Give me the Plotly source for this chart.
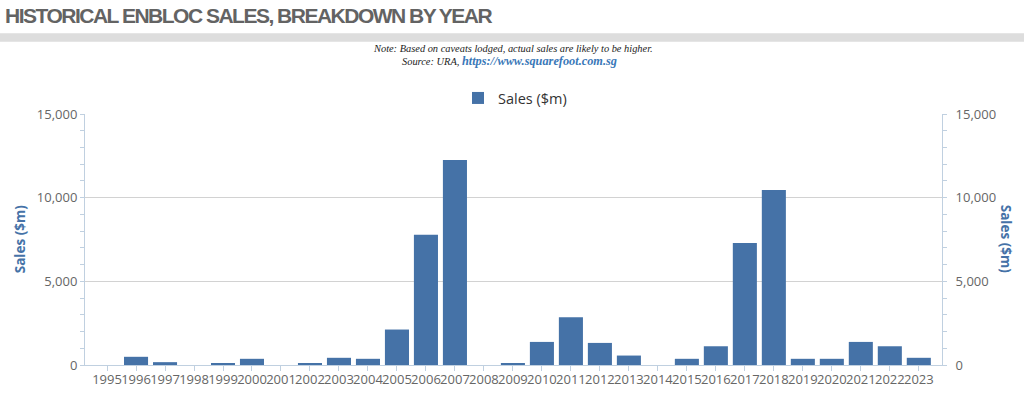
import plotly.graph_objects as go

years = [str(y) for y in range(1995, 2024)]
sales = [0, 490, 170, 0, 100, 370, 0, 100, 430, 370, 2120, 7780, 12250, 0, 100,
         1380, 2850, 1320, 565, 0, 370, 1120, 7285, 10465, 370, 370, 1380, 1120, 430]

title_text = "HISTORICAL ENBLOC SALES, BREAKDOWN BY YEAR"
note_text = "Note: Based on caveats lodged, actual sales are likely to be higher."
source_text = "Source: URA, "
link_text = "https://www.squarefoot.com.sg"
series_name = "Sales ($m)"
axis_title = "Sales ($m)"

BAR = "#4572A7"
AXIS = "#C0D0E0"
GRID = "#d2d2d2"
FONT = "Open Sans"

W, H = 1024, 396
L, R, T, B = 85, 82, 114, 30.5
pw = W - L - R
ph = H - T - B


def px2x(p):
    return (p - L) / pw


def px2y(p):
    return (H - B - p) / ph


fig = go.Figure()
fig.add_trace(go.Bar(x=years, y=sales, name=series_name, marker_color=BAR,
                     marker_line_width=0, showlegend=True))
fig.add_trace(go.Scatter(x=years, y=sales, yaxis="y2", mode="markers",
                         marker=dict(opacity=0), showlegend=False, hoverinfo="skip"))

fig.update_layout(
    width=W, height=H,
    margin=dict(l=L, r=R, t=T, b=B),
    paper_bgcolor="white", plot_bgcolor="white",
    bargap=0.17,
    font=dict(family=FONT, size=13, color="#666666"),
    title=dict(text="<span style='letter-spacing:-1.5px'>" + title_text + "</span>",
               xref="container", yref="container",
               x=5 / W, xanchor="left", y=1 - 15.5 / H, yanchor="middle",
               font=dict(family="Liberation Sans Narrow, Arial Narrow, Liberation Sans",
                         size=21, weight="bold", color="#636363")),
    showlegend=True,
    legend=dict(orientation="h", x=px2x(458), xanchor="left", y=px2y(98), yanchor="middle",
                font=dict(family=FONT, size=14.5, color="#333333"),
                bgcolor="rgba(0,0,0,0)"),
    xaxis=dict(type="category", range=[-0.76, 28.8], tickmode="array",
               tickvals=years, ticktext=years, tickangle=0, automargin=False,
               showline=True, linecolor=AXIS, linewidth=1,
               ticks="outside", ticklen=5, tickcolor=AXIS,
               ticklabelstandoff=-3,
               showgrid=False, zeroline=False,
               tickfont=dict(family=FONT, size=13, color="#666666")),
    yaxis=dict(range=[0, 15000], tickvals=[0, 5000, 10000, 15000],
               ticktext=["0", "5,000", "10,000", "15,000"], automargin=False,
               showline=True, linecolor=AXIS, linewidth=1,
               ticks="outside", ticklen=4, tickcolor=AXIS,
               minor=dict(dtick=1000, ticks="outside", ticklen=4, tickcolor=AXIS, showgrid=False),
               showgrid=True, gridcolor=GRID, gridwidth=1, zeroline=False,
               tickfont=dict(family=FONT, size=13, color="#666666")),
    yaxis2=dict(range=[0, 15000], overlaying="y", side="right",
                tickvals=[0, 5000, 10000, 15000],
                ticktext=["0", "5,000", "10,000", "15,000"], automargin=False,
                showline=True, linecolor=AXIS, linewidth=1,
                ticks="outside", ticklen=4, tickcolor=AXIS,
                ticklabelstandoff=6,
                minor=dict(dtick=1000, ticks="outside", ticklen=4, tickcolor=AXIS, showgrid=False),
                showgrid=False, zeroline=False,
                tickfont=dict(family=FONT, size=13, color="#666666")),
)

# grey band under title
fig.add_shape(type="rect", xref="paper", yref="paper",
              x0=px2x(0), x1=px2x(W), y0=px2y(41.5), y1=px2y(33),
              fillcolor="#dddddd", line_width=0, layer="below")

fig.add_annotation(text=note_text, xref="paper", yref="paper",
                   x=px2x(512.5), y=px2y(48), xanchor="center", yanchor="middle",
                   showarrow=False,
                   font=dict(family="Liberation Serif", size=10.4, style="italic", color="#222222"))
fig.add_annotation(text=source_text + "<b><span style='color:#3a78b8;font-size:12.3px'>"
                   + link_text + "</span></b>",
                   xref="paper", yref="paper",
                   x=px2x(509.5), y=px2y(61), xanchor="center", yanchor="middle",
                   showarrow=False,
                   font=dict(family="Liberation Serif", size=10.4, style="italic", color="#222222"))

fig.add_annotation(text="<b>" + axis_title + "</b>", xref="paper", yref="paper",
                   x=px2x(20), y=px2y(239.5), xanchor="center", yanchor="middle",
                   textangle=-90, showarrow=False,
                   font=dict(family=FONT, size=13.5, color="#4572A7"))
fig.add_annotation(text="<b>" + axis_title + "</b>", xref="paper", yref="paper",
                   x=px2x(1005.5), y=px2y(239.5), xanchor="center", yanchor="middle",
                   textangle=90, showarrow=False,
                   font=dict(family=FONT, size=13.5, color="#4572A7"))

fig.write_html("out.html", config={"displayModeBar": False},
               post_script="document.body.style.margin='0';document.body.style.overflow='hidden';")
